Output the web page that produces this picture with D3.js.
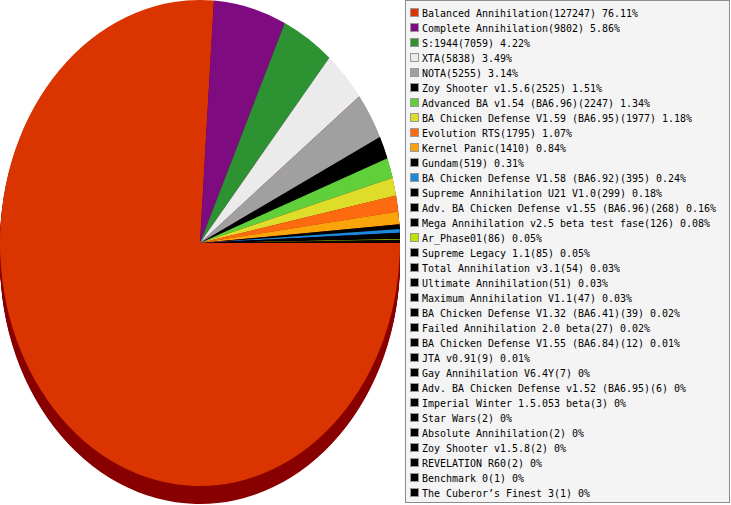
<!DOCTYPE html>
<html>
<head>
<meta charset="utf-8">
<script src="https://cdn.jsdelivr.net/npm/d3@7"></script>
<style>
  html, body { margin: 0; padding: 0; background: #fff; }
  svg { display: block; }
  .lbl { font-family: "DejaVu Sans Mono", "Liberation Mono", monospace; font-size: 10px; }
</style>
</head>
<body>
<svg id="chart" width="731" height="505"></svg>
<script>
const names = [
  "Balanced Annihilation", "Complete Annihilation", "S:1944", "XTA", "NOTA",
  "Zoy Shooter v1.5.6", "Advanced BA v1.54 (BA6.96)", "BA Chicken Defense V1.59 (BA6.95)",
  "Evolution RTS", "Kernel Panic", "Gundam", "BA Chicken Defense V1.58 (BA6.92)",
  "Supreme Annihilation U21 V1.0", "Adv. BA Chicken Defense v1.55 (BA6.96)",
  "Mega Annihilation v2.5 beta test fase", "Ar_Phase01", "Supreme Legacy 1.1",
  "Total Annihilation v3.1", "Ultimate Annihilation", "Maximum Annihilation V1.1",
  "BA Chicken Defense V1.32 (BA6.41)", "Failed Annihilation 2.0 beta",
  "BA Chicken Defense V1.55 (BA6.84)", "JTA v0.91", "Gay Annihilation V6.4Y",
  "Adv. BA Chicken Defense v1.52 (BA6.95)", "Imperial Winter 1.5.053 beta",
  "Star Wars", "Absolute Annihilation", "Zoy Shooter v1.5.8", "REVELATION R60",
  "Benchmark 0", "The Cuberor\u2019s Finest 3"
];
const values = [
  127247, 9802, 7059, 5838, 5255, 2525, 2247, 1977, 1795, 1410, 519, 395, 299, 268,
  126, 86, 85, 54, 51, 47, 39, 27, 12, 9, 7, 6, 3, 2, 2, 2, 2, 1, 1
];
const palette = [
  "#da3500", "#7e0b80", "#2d9232", "#ebebeb", "#a0a0a0", "#000000", "#60d03a",
  "#dede2a", "#fe6a10", "#f8a40a", "#000000", "#1c88d8", "#000000", "#000000",
  "#000000", "#c0e400", "#000000", "#000000", "#000000", "#000000", "#000000",
  "#000000", "#000000", "#000000", "#000000", "#000000", "#000000", "#000000",
  "#000000", "#000000", "#000000", "#000000", "#000000"
];

const data = names.map((n, i) => ({ name: n, value: values[i], color: palette[i] }));
const total = d3.sum(values);

const svg = d3.select("#chart");
const cx = 200, cy = 243, rx = 200, ry = 243, depth = 18;

const pie = d3.pie().sort(null).value(d => d.value)
  .startAngle(Math.PI / 2).endAngle(Math.PI / 2 + 2 * Math.PI);
const arcs = pie(data);
const arc = d3.arc().innerRadius(0).outerRadius(rx);

function sideColor(c) {
  const r = d3.rgb(c);
  return d3.rgb(r.r * 0.63, r.g * 0.0, r.b * 0.63).toString();
}

const pieG = svg.append("g");
for (let off = depth; off >= 1; off--) {
  pieG.append("g")
    .attr("transform", `translate(${cx},${cy + off}) scale(1,${ry / rx})`)
    .selectAll("path").data(arcs).join("path")
    .attr("d", arc)
    .attr("fill", d => sideColor(d.data.color));
}
pieG.append("g")
  .attr("transform", `translate(${cx},${cy}) scale(1,${ry / rx})`)
  .selectAll("path").data(arcs).join("path")
  .attr("d", arc)
  .attr("fill", d => d.data.color);

// Legend
const lg = svg.append("g");
lg.append("rect")
  .attr("x", 405.5).attr("y", 0.5)
  .attr("width", 324).attr("height", 502)
  .attr("fill", "#f4f4f4").attr("stroke", "#8c8c8c");

const fmt = v => String(+(v / total * 100).toFixed(2));
const label = d => `${d.name}(${d.value}) ${fmt(d.value)}%`;
const rows = lg.selectAll("g.row").data(data).join("g")
  .attr("class", "row")
  .attr("transform", (d, i) => `translate(0,${i * 15})`);
rows.append("rect")
  .attr("x", 410.5).attr("y", 8.5).attr("width", 8).attr("height", 8)
  .attr("fill", d => d.color).attr("stroke", "#999");
rows.append("text")
  .attr("class", "lbl")
  .attr("x", 422).attr("y", 16.5)
  .attr("fill", "#000")
  .attr("textLength", d => label(d).length * 6)
  .attr("lengthAdjust", "spacingAndGlyphs")
  .text(label);
</script>
</body>
</html>
